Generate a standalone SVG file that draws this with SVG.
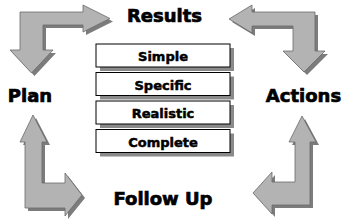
<svg xmlns="http://www.w3.org/2000/svg" width="350" height="222" viewBox="0 0 350 222">
<style>
.sh{fill:#7c7c7c}
.ar{fill:#b3b3b3;stroke:#6a6a6a;stroke-width:0.8;stroke-linejoin:miter}
.bx{fill:#fff;stroke:#000;stroke-width:1}
.bs{fill:#8a8a8a}
.t{font-family:"DejaVu Sans",sans-serif;font-weight:bold;fill:#000;stroke:#000;text-anchor:middle}
.lb{font-size:18px;stroke-width:0.7}
.bt{font-size:13px;stroke-width:0.5}
</style>
<rect width="350" height="222" fill="#fff"/>
<g id="connectors">
  <g id="arrow-plan-results">
    <polygon class="sh" transform="translate(3,3)" points="20,12 83,12 83,5 110,18.5 83,32 83,25 43,25 43,50 53,50 31.5,73 10,50 20,50"/>
    <polygon class="ar" points="20,12 83,12 83,5 110,18.5 83,32 83,25 43,25 43,50 53,50 31.5,73 10,50 20,50"/>
  </g>
  <g id="arrow-results-actions">
    <polygon class="sh" transform="translate(3,3)" points="315,12 252,12 252,5 229,19 252,33 252,26 293,26 293,51 283,51 304,72 325,51 315,51"/>
    <polygon class="ar" points="315,12 252,12 252,5 229,19 252,33 252,26 293,26 293,51 283,51 304,72 325,51 315,51"/>
  </g>
  <g id="arrow-plan-followup">
    <polygon class="sh" transform="translate(3,3)" points="33,115 47,142 42,142 42,183 65,183 65,173 82,195 65,216 65,208 25,208 25,142 20,142"/>
    <polygon class="ar" points="33,115 47,142 42,142 42,183 65,183 65,173 82,195 65,216 65,208 25,208 25,142 20,142"/>
  </g>
  <g id="arrow-followup-actions">
    <polygon class="sh" transform="translate(3,3)" points="302,116 316,142 310,142 310,205 272,205 272,214 253,193 272,172 272,182 295,182 295,142 289,142"/>
    <polygon class="ar" points="302,116 316,142 310,142 310,205 272,205 272,214 253,193 272,172 272,182 295,182 295,142 289,142"/>
  </g>
</g>
<g id="results"><text class="t lb" x="164.5" y="22">Results</text></g>
<g id="plan"><text class="t lb" x="30" y="102">Plan</text></g>
<g id="actions"><text class="t lb" x="303.5" y="102">Actions</text></g>
<g id="followup"><text class="t lb" x="163" y="205">Follow Up</text></g>
<g id="box-simple">
  <rect class="bs" x="100" y="48" width="134" height="23"/>
  <rect class="bx" x="96" y="44" width="134" height="23"/>
  <text class="t bt" x="163" y="61">Simple</text>
</g>
<g id="box-specific">
  <rect class="bs" x="100" y="76.5" width="134" height="23"/>
  <rect class="bx" x="96" y="72.5" width="134" height="23"/>
  <text class="t bt" x="163" y="89.5">Specific</text>
</g>
<g id="box-realistic">
  <rect class="bs" x="100" y="105" width="134" height="23"/>
  <rect class="bx" x="96" y="101" width="134" height="23"/>
  <text class="t bt" x="163" y="118">Realistic</text>
</g>
<g id="box-complete">
  <rect class="bs" x="100" y="133.5" width="134" height="23"/>
  <rect class="bx" x="96" y="129.5" width="134" height="23"/>
  <text class="t bt" x="163" y="146.5">Complete</text>
</g>
</svg>
